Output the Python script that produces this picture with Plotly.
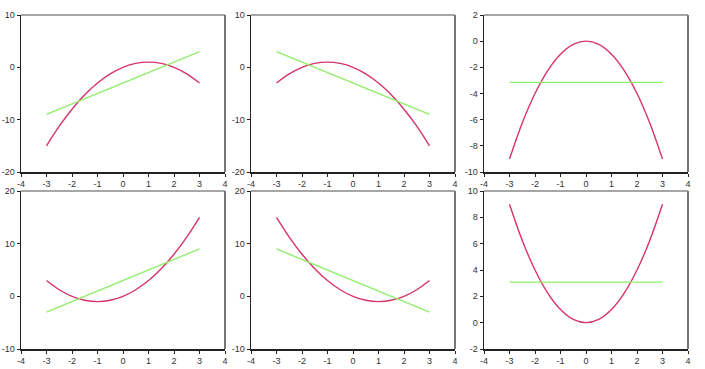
import plotly.graph_objects as go

x_vals = [-3, -2.5, -2, -1.5, -1, -0.5, 0, 0.5, 1, 1.5, 2, 2.5, 3]
line_x = [-3, 3]

curve_tl = [-15, -11.25, -8, -5.25, -3, -1.25, 0, 0.75, 1, 0.75, 0, -1.25, -3]
curve_tm = [-3, -1.25, 0, 0.75, 1, 0.75, 0, -1.25, -3, -5.25, -8, -11.25, -15]
curve_tr = [-9, -6.25, -4, -2.25, -1, -0.25, 0, -0.25, -1, -2.25, -4, -6.25, -9]
curve_bl = [3, 1.25, 0, -0.75, -1, -0.75, 0, 1.25, 3, 5.25, 8, 11.25, 15]
curve_bm = [15, 11.25, 8, 5.25, 3, 1.25, 0, -0.75, -1, -0.75, 0, 1.25, 3]
curve_br = [9, 6.25, 4, 2.25, 1, 0.25, 0, 0.25, 1, 2.25, 4, 6.25, 9]

line_tl = [-9, 3]
line_tm = [3, -9]
line_tr = [-3.15, -3.15]
line_bl = [-3, 9]
line_bm = [9, -3]
line_br = [3.08, 3.08]

x_ticks = [-4, -3, -2, -1, 0, 1, 2, 3, 4]
y_ticks_a = [-20, -10, 0, 10]
y_ticks_b = [-10, -8, -6, -4, -2, 0, 2]
y_ticks_c = [-10, 0, 10, 20]
y_ticks_d = [-2, 0, 2, 4, 6, 8, 10]

panels = [
    (curve_tl, line_tl, y_ticks_a),
    (curve_tm, line_tm, y_ticks_a),
    (curve_tr, line_tr, y_ticks_b),
    (curve_bl, line_bl, y_ticks_c),
    (curve_bm, line_bm, y_ticks_c),
    (curve_br, line_br, y_ticks_d),
]

W, H = 705, 369
cols_px = [(21, 225), (251, 455), (484, 688)]
rows_px = [(15, 172), (191, 349)]

CURVE = "#D6336B"
GREEN = "#8FEF6A"

fig = go.Figure()
layout = dict(
    width=W, height=H, margin=dict(l=0, r=0, t=0, b=0, autoexpand=False),
    paper_bgcolor="white", plot_bgcolor="white", showlegend=False,
    hovermode=False,
    font=dict(family="Liberation Sans, Arial, sans-serif", size=9, color="#333333"),
)
shapes = []
for i, (curve, ln, yt) in enumerate(panels):
    r, c = divmod(i, 3)
    n = i + 1
    xa = "x" if n == 1 else f"x{n}"
    ya = "y" if n == 1 else f"y{n}"
    fig.add_trace(go.Scatter(x=x_vals, y=curve, mode="lines",
                             line=dict(color=CURVE, width=1.4, shape="spline"),
                             xaxis=xa, yaxis=ya))
    fig.add_trace(go.Scatter(x=line_x, y=ln, mode="lines",
                             line=dict(color=GREEN, width=1.4),
                             xaxis=xa, yaxis=ya))
    x0, x1 = cols_px[c]
    y0, y1 = rows_px[r]
    xd = [x0 / W, x1 / W]
    yd = [1 - y1 / H, 1 - y0 / H]
    layout[f"xaxis{'' if n == 1 else n}"] = dict(
        domain=xd, anchor=ya, range=[-4, 4], tickvals=x_ticks,
        ticktext=[str(v) for v in x_ticks],
        showgrid=False, zeroline=False, showline=True, linecolor="#222222",
        linewidth=1.5, ticks="outside", ticklen=3, tickcolor="#222222",
        tickfont=dict(size=9, color="#333333"), automargin=False,
    )
    layout[f"yaxis{'' if n == 1 else n}"] = dict(
        domain=yd, anchor=xa, range=[yt[0], yt[-1]], tickvals=yt,
        ticktext=[str(v) for v in yt],
        showgrid=False, zeroline=False, showline=True, linecolor="#222222",
        linewidth=1.5, ticks="outside", ticklen=3, tickcolor="#222222",
        tickfont=dict(size=9, color="#333333"), automargin=False,
    )
    shapes.append(dict(type="line", xref=f"{xa} domain", yref=f"{ya} domain",
                       x0=0, x1=1, y0=1, y1=1, line=dict(color="#888888", width=1.5)))
    shapes.append(dict(type="line", xref=f"{xa} domain", yref=f"{ya} domain",
                       x0=1, x1=1, y0=0, y1=1, line=dict(color="#777777", width=2)))
layout["shapes"] = shapes
fig.update_layout(**layout)
fig.write_html("out.html", config={"displayModeBar": False, "staticPlot": True},
               post_script="document.body.style.margin='0';document.body.style.overflow='hidden';")
